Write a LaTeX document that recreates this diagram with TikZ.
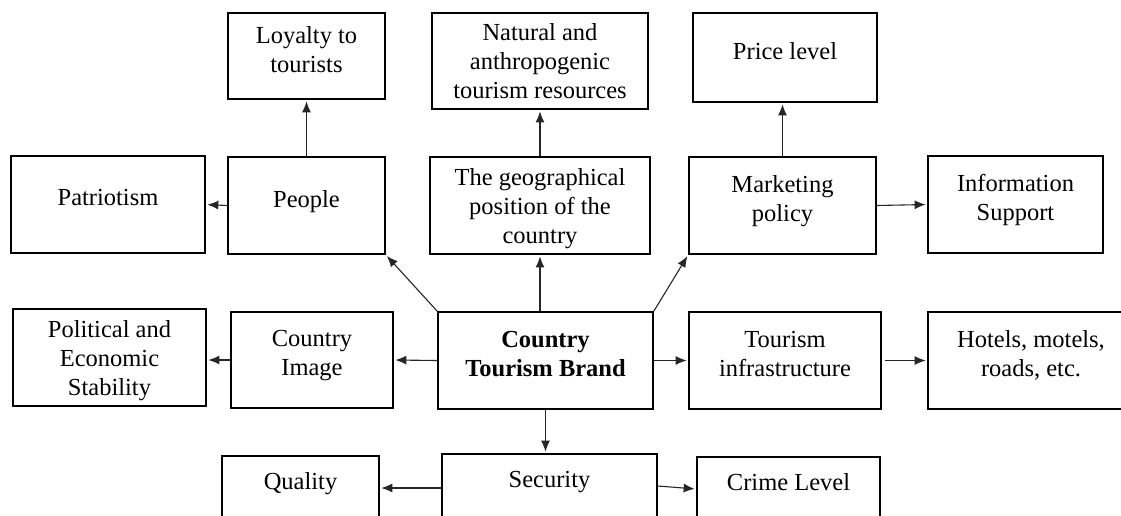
\documentclass[tikz,border=0pt]{standalone}
\usepackage{fontspec}
\setmainfont{Liberation Serif}
\usetikzlibrary{arrows.meta}

\begin{document}
\begin{tikzpicture}[x=1pt,y=-1pt,
    font=\fontsize{24.5}{29}\selectfont,
    box/.style={draw, line width=1.7pt, align=center, text depth=0pt},
    lift/.style={text depth=13.4pt},
    arr/.style={-{Latex[length=11pt,width=9pt]}, line width=1.1pt, black!85, shorten >=1.5pt}]
                    \clip (0,0) rectangle (1121,515);

                    % Fila superior
                    \node[box, lift, minimum width=157pt, minimum height=86pt] (loyal) at (306.5,56) {Loyalty to\\tourists};
                    \node[box, minimum width=216pt, minimum height=96pt] (natur) at (540,61) {Natural and\\anthropogenic\\tourism resources};
                    \node[box, lift, minimum width=184pt, minimum height=89pt] (price) at (785,57.5) {Price level};

                    % Segunda fila
                    \node[box, lift, minimum width=194pt, minimum height=97pt] (patri) at (108,204.5) {Patriotism};
                    \node[box, lift, minimum width=157pt, minimum height=97pt] (people) at (306.5,205.5) {People};
                    \node[box, minimum width=220pt, minimum height=97pt] (geo) at (540,205.5) {The geographical\\position of the\\country};
                    \node[box, lift, minimum width=187pt, minimum height=97pt] (market) at (782.5,205.5) {Marketing\\policy};
                    \node[box, lift, minimum width=175pt, minimum height=97pt] (info) at (1015.5,204.5) {Information\\Support};

                    % Fila central
                    \node[box, minimum width=193pt, minimum height=97pt] (polit) at (109.5,357.5) {Political and\\Economic\\Stability};
                    \node[box, lift, minimum width=162pt, minimum height=96pt] (cimage) at (312,360) {Country\\Image};
                    \node[box, lift, minimum width=215pt, minimum height=97pt, font=\fontsize{24.5}{29}\selectfont\bfseries] (brand) at (545.5,360.5) {Country\\Tourism Brand};
                    \node[box, lift, minimum width=192pt, minimum height=97pt] (infra) at (785,360.5) {Tourism\\infrastructure};
                    \node[box, lift, minimum width=206pt, minimum height=97pt] (hotels) at (1031,360.5) {Hotels, motels,\\roads, etc.};

                    % Fila inferior
                    \node[box, lift, minimum width=157pt, minimum height=64pt] (quality) at (300.5,488) {Quality};
                    \node[box, lift, minimum width=215pt, minimum height=64pt] (secur) at (549.5,486) {Security};
                    \node[box, lift, minimum width=183pt, minimum height=64pt] (crime) at (788.5,489) {Crime Level};

                    % Flechas
                    \draw[arr] (people.north) -- (loyal.south);
                    \draw[arr] (people.west) -- (patri.east);
                    \draw[arr] (geo.north) -- (natur.south);
                    \draw[arr] (market.north) -- (market.north |- price.south);
                    \draw[arr] (market.east) -- (info.west);
                    \draw[arr] (brand.north west) -- (people.south east);
                    \draw[arr] (brand.north -| geo.south) -- (geo.south);
                    \draw[arr] (brand.north east) -- (market.south west);
                    \draw[arr] (brand.west) -- (cimage.east);
                    \draw[arr] (cimage.west) -- (cimage.west -| polit.east);
                    \draw[arr] (brand.east) -- (infra.west);
                    \draw[arr, shorten <=3pt] (infra.east) -- (hotels.west);
                    \draw[arr] (brand.south) -- (brand.south |- secur.north);
                    \draw[arr] (secur.west |- quality.east) -- (quality.east);
                    \draw[arr] (secur.east) -- (crime.west);
\end{tikzpicture}
\end{document}
